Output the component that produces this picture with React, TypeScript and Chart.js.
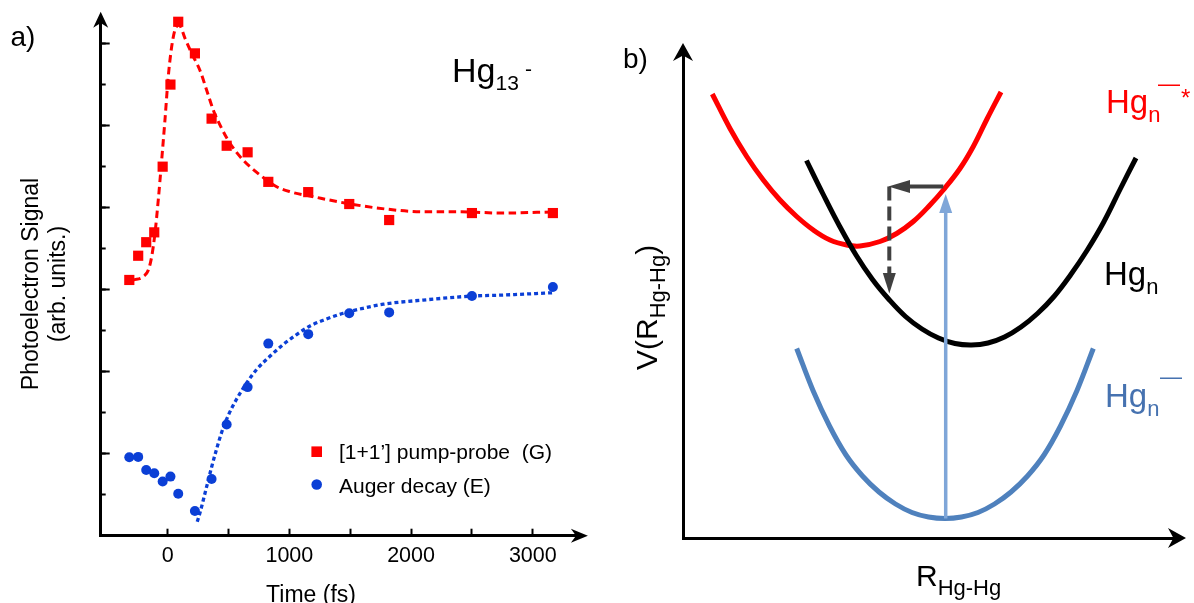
import React, { useEffect, useRef } from 'react';
import { Chart, registerables } from 'chart.js';

Chart.register(...registerables);

const FONT = "'Liberation Sans', Arial, Helvetica, sans-serif";
Chart.defaults.font.family = FONT;

// ---------------- Panel a: time-resolved photoelectron signal ----------------
const delayTimes = [-315, -242, -176, -110, -41, 23, 87, 224, 361, 485, 657, 827, 1155, 1492, 1820, 2500, 3165];
const pumpProbeSignal = [6.23, 6.82, 7.15, 7.39, 8.99, 10.99, 12.52, 11.75, 10.16, 9.5, 9.34, 8.62, 8.37, 8.08, 7.69, 7.86, 7.86];
const augerSignal = [1.91, 1.92, 1.6, 1.52, 1.32, 1.44, 1.02, 0.6, 1.38, 2.71, 3.62, 4.68, 4.91, 5.42, 5.44, 5.84, 6.06];

const pumpProbeFitTimes = [-283, -200, -159, -131, -104, -77, -49, -22, 5, 33, 60, 95, 142, 197, 265, 320, 375, 444, 512, 621, 758, 896, 1005, 1210, 1465, 1786, 2098, 2414, 2731, 3200];
const pumpProbeFitValues = [6.23, 6.31, 6.47, 6.8, 7.37, 8.18, 9.15, 10.13, 11.18, 11.91, 12.32, 12.44, 12.12, 11.75, 11.34, 10.86, 10.37, 9.92, 9.56, 9.15, 8.79, 8.5, 8.38, 8.25, 8.1, 7.96, 7.89, 7.89, 7.86, 7.89];

const augerFitTimes = [243, 265, 293, 320, 362, 403, 444, 498, 567, 649, 731, 840, 950, 1060, 1170, 1279, 1443, 1607, 1772, 2098, 2509, 2731, 3175];
const augerFitValues = [0.34, 0.55, 0.87, 1.19, 1.68, 2.12, 2.52, 2.93, 3.33, 3.72, 4.05, 4.37, 4.66, 4.9, 5.11, 5.25, 5.42, 5.54, 5.64, 5.74, 5.84, 5.86, 5.92];

const timeTickValues = [0, 500, 1000, 1500, 2000, 2500, 3000];
const timeTickLabels = ['0', '', '1000', '', '2000', '', '3000'];
const signalMinorTicks = [1, 2, 3, 4, 5, 6, 7, 8, 9, 10, 11, 12];
const signalMajorTicks = [2, 4, 6, 8, 10, 12];

const legendLabelG = '[1+1\u2019] pump-probe  (G)';
const legendLabelE = 'Auger decay (E)';

// ---------------- Panel b: potential energy curves ----------------
const excitedR = [0.586, 0.94, 1.274, 1.606, 1.94, 2.274, 2.606, 2.94, 3.274, 3.54, 3.94, 4.274, 4.606, 4.94, 5.206, 5.54, 5.806, 6.08, 6.36];
const excitedV = [8.88, 8.19, 7.63, 7.16, 6.76, 6.43, 6.16, 5.96, 5.86, 5.84, 5.93, 6.09, 6.33, 6.66, 6.96, 7.39, 7.83, 8.38, 8.92];

const neutralR = [2.47, 2.8, 3.13, 3.46, 3.79, 4.12, 4.45, 4.78, 5.11, 5.44, 5.77, 6.1, 6.43, 6.76, 7.09, 7.42, 7.75, 8.08, 8.41, 8.74, 9.06];
const neutralV = [7.55, 6.88, 6.24, 5.66, 5.17, 4.77, 4.43, 4.18, 4.0, 3.89, 3.86, 3.9, 4.02, 4.22, 4.49, 4.83, 5.26, 5.75, 6.31, 6.97, 7.6];

const anionR = [2.274, 2.6, 2.93, 3.26, 3.59, 3.92, 4.25, 4.58, 4.91, 5.24, 5.57, 5.9, 6.23, 6.56, 6.89, 7.22, 7.55, 7.88, 8.206];
const anionV = [3.79, 2.95, 2.24, 1.66, 1.24, 0.92, 0.68, 0.51, 0.42, 0.39, 0.42, 0.51, 0.68, 0.92, 1.24, 1.66, 2.24, 2.95, 3.79];

// arrows: shaft end points and tip
const pumpShaftR = [5.254, 5.254];
const pumpShaftV = [0.39, 6.5];
const pumpTip = { x: 5.254, y: 6.88 };

const relaxShaftR = [5.206, 4.54];
const relaxShaftV = [7.03, 7.03];
const relaxTip = { x: 4.106, y: 7.03 };

const decayShaftR = [4.126, 4.126];
const decayShaftV = [7.03, 5.3];
const decayTip = { x: 4.126, y: 4.89 };

const RED = '#ff0000';
const DOT_BLUE = '#0b3fd6';
const CURVE_BLUE = '#4f81bd';
const LABEL_BLUE = '#4672b0';
const PUMP_BLUE = '#7fa6d8';
const GRAY = '#404040';

const zip = (xs: number[], ys: number[]) => xs.map((x, i) => ({ x, y: ys[i] }));

type Run = { t: string; size: number; dy?: number; x?: number };

function drawRuns(ctx: CanvasRenderingContext2D, x0: number, y0: number, runs: Run[], color: string, rotated = false) {
  ctx.save();
  ctx.translate(x0, y0);
  if (rotated) ctx.rotate(-Math.PI / 2);
  ctx.fillStyle = color;
  ctx.textBaseline = 'alphabetic';
  ctx.textAlign = 'left';
  let cx = 0;
  for (const r of runs) {
    ctx.font = `${r.size}px ${FONT}`;
    const px = r.x !== undefined ? r.x : cx;
    ctx.fillText(r.t, px, r.dy || 0);
    cx = px + ctx.measureText(r.t).width;
  }
  ctx.restore();
}

function arrowHead(ctx: CanvasRenderingContext2D, tx: number, ty: number, dx: number, dy: number, len: number, hw: number, notch: number, color: string) {
  const px = -dy;
  const py = dx;
  const bx = tx - dx * len;
  const by = ty - dy * len;
  const nx = tx - dx * len * (1 - notch);
  const ny = ty - dy * len * (1 - notch);
  ctx.save();
  ctx.fillStyle = color;
  ctx.beginPath();
  ctx.moveTo(tx, ty);
  ctx.lineTo(bx + px * hw, by + py * hw);
  ctx.lineTo(nx, ny);
  ctx.lineTo(bx - px * hw, by - py * hw);
  ctx.closePath();
  ctx.fill();
  ctx.restore();
}

const panelADecor = {
  id: 'panelADecor',
  afterDraw(chart: any) {
    const { ctx, chartArea: a } = chart;
    // axis arrow heads
    arrowHead(ctx, a.left, a.top - 11.2, 0, -1, 16, 7.5, 0.3, '#000');
    arrowHead(ctx, a.right + 11.9, a.bottom, 1, 0, 17, 7, 0.3, '#000');

    // legend
    const dsG = chart.data.datasets[0];
    const dsE = chart.data.datasets[1];
    ctx.save();
    ctx.fillStyle = dsG.backgroundColor;
    ctx.fillRect(316.7 - 5.3, 451.7 - 5.3, 10.6, 10.6);
    ctx.fillStyle = dsE.backgroundColor;
    ctx.beginPath();
    ctx.arc(316.7, 484.5, 5.3, 0, Math.PI * 2);
    ctx.fill();
    ctx.restore();
    drawRuns(ctx, 339, 458.5, [{ t: dsG.label, size: 21 }], '#000');
    drawRuns(ctx, 339, 493.3, [{ t: dsE.label, size: 21 }], '#000');

    // panel label and cluster label
    drawRuns(ctx, 10.5, 46, [{ t: 'a)', size: 28 }], '#000');
    drawRuns(ctx, 452, 82, [
      { t: 'Hg', size: 34 },
      { t: '13', size: 21, dy: 8 },
      { t: '-', size: 21, dy: -6.3, x: 73 },
    ], '#000');

    // y title (two lines, rotated)
    ctx.save();
    ctx.fillStyle = '#000';
    ctx.textAlign = 'center';
    ctx.textBaseline = 'alphabetic';
    ctx.font = `23px ${FONT}`;
    ctx.translate(37.5, 284);
    ctx.rotate(-Math.PI / 2);
    ctx.fillText('Photoelectron Signal', 0, 0);
    ctx.fillText('(arb. units.)', 0, 27);
    ctx.restore();

    // x title
    ctx.save();
    ctx.fillStyle = '#000';
    ctx.textAlign = 'center';
    ctx.textBaseline = 'alphabetic';
    ctx.font = `23px ${FONT}`;
    ctx.fillText('Time (fs)', 311, 601.5);
    ctx.restore();
  },
};

const panelBDecor = {
  id: 'panelBDecor',
  afterDraw(chart: any) {
    const { ctx, chartArea: a, scales } = chart;
    const xs = scales.x;
    const ys = scales.y;
    // axis arrow heads
    arrowHead(ctx, a.left, a.top - 12.6, 0, -1, 18, 10, 0.3, '#000');
    arrowHead(ctx, a.right + 12.6, a.bottom, 1, 0, 18, 10, 0.3, '#000');

    // data arrow heads
    const head = (tip: { x: number; y: number }, sx: number, sy: number, hw: number, color: string) => {
      const tx = xs.getPixelForValue(tip.x);
      const ty = ys.getPixelForValue(tip.y);
      const bx = xs.getPixelForValue(sx);
      const by = ys.getPixelForValue(sy);
      const len = Math.hypot(tx - bx, ty - by);
      arrowHead(ctx, tx, ty, (tx - bx) / len, (ty - by) / len, len, hw, 0, color);
    };
    head(pumpTip, pumpShaftR[1], pumpShaftV[1], 6.5, PUMP_BLUE);
    head(relaxTip, relaxShaftR[1], relaxShaftV[1], 6.5, GRAY);
    head(decayTip, decayShaftR[1], decayShaftV[1], 6.5, GRAY);

    // labels (canvas starts at page x = 600)
    drawRuns(ctx, 23, 68, [{ t: 'b)', size: 28 }], '#000');
    drawRuns(ctx, 506, 113, [
      { t: 'Hg', size: 33 },
      { t: 'n', size: 22, dy: 9 },
      { t: '\u2014', size: 22, x: 52, dy: -22 },
      { t: '*', size: 24, x: 75, dy: -7.5 },
    ], RED);
    drawRuns(ctx, 504, 285, [
      { t: 'Hg', size: 33 },
      { t: 'n', size: 22, dy: 8.5 },
    ], '#000');
    drawRuns(ctx, 505, 407, [
      { t: 'Hg', size: 33 },
      { t: 'n', size: 22, dy: 9 },
      { t: '\u2014', size: 22, x: 55, dy: -23 },
    ], LABEL_BLUE);

    // axis titles
    drawRuns(ctx, 57, 370, [
      { t: 'V(R', size: 30 },
      { t: 'Hg-Hg', size: 22, dy: 8.4 },
      { t: ')', size: 30 },
    ], '#000', true);
    drawRuns(ctx, 316, 586, [
      { t: 'R', size: 30 },
      { t: 'Hg-Hg', size: 22, dy: 9 },
    ], '#000');
  },
};

function makePanelA(canvas: HTMLCanvasElement) {
  return new Chart(canvas, {
    type: 'scatter',
    data: {
      datasets: [
        {
          label: legendLabelG,
          data: zip(delayTimes, pumpProbeSignal),
          pointStyle: 'rect',
          pointRadius: 7.2,
          backgroundColor: RED,
          pointBorderWidth: 0,
          borderWidth: 0,
          order: 1,
          clip: false,
        } as any,
        {
          label: legendLabelE,
          data: zip(delayTimes, augerSignal),
          pointStyle: 'circle',
          pointRadius: 5,
          backgroundColor: DOT_BLUE,
          pointBorderWidth: 0,
          borderWidth: 0,
          order: 2,
          clip: false,
        } as any,
        {
          type: 'line',
          label: 'fit G',
          data: zip(pumpProbeFitTimes, pumpProbeFitValues),
          borderColor: RED,
          borderWidth: 3,
          borderDash: [7.5, 4.5],
          pointRadius: 0,
          cubicInterpolationMode: 'monotone',
          fill: false,
          order: 3,
          clip: false,
        } as any,
        {
          type: 'line',
          label: 'fit E',
          data: zip(augerFitTimes, augerFitValues),
          borderColor: DOT_BLUE,
          borderWidth: 3.3,
          borderDash: [4, 3],
          pointRadius: 0,
          cubicInterpolationMode: 'monotone',
          fill: false,
          order: 4,
          clip: false,
        } as any,
      ],
    },
    options: {
      responsive: false,
      animation: false,
      events: [],
      layout: { padding: { left: 100.7, top: 23, right: 24, bottom: 0 } },
      plugins: { legend: { display: false }, tooltip: { enabled: false } },
      scales: {
        x: {
          type: 'linear',
          position: 'bottom',
          min: -550,
          max: 3355,
          afterBuildTicks: (s: any) => { s.ticks = timeTickValues.map((v) => ({ value: v })); },
          afterFit: (s: any) => { s.height = 67.3; },
          grid: { display: true, drawOnChartArea: false, drawTicks: true, tickLength: -7, tickWidth: 2, tickColor: '#000' },
          border: { display: true, color: '#000', width: 3 },
          ticks: {
            autoSkip: false,
            maxRotation: 0,
            padding: 14,
            color: '#000',
            font: { size: 21.5, family: FONT },
            callback: (v: any) => {
              const i = timeTickValues.indexOf(Number(v));
              return i >= 0 ? timeTickLabels[i] : '';
            },
          },
        },
        y: {
          type: 'linear',
          position: 'left',
          min: 0,
          max: 12.49,
          afterBuildTicks: (s: any) => { s.ticks = signalMinorTicks.map((v) => ({ value: v })); },
          afterFit: (s: any) => { s.width = 0; },
          grid: { display: true, drawOnChartArea: false, drawTicks: true, tickLength: -5, tickWidth: 2, tickColor: '#000' },
          border: { display: true, color: '#000', width: 3 },
          ticks: { display: false },
        },
        y2: {
          type: 'linear',
          position: 'left',
          min: 0,
          max: 12.49,
          afterBuildTicks: (s: any) => { s.ticks = signalMajorTicks.map((v) => ({ value: v })); },
          afterFit: (s: any) => { s.width = 0; },
          grid: { display: true, drawOnChartArea: false, drawTicks: true, tickLength: -9, tickWidth: 2, tickColor: '#000' },
          border: { display: false },
          ticks: { display: false },
        },
      },
    } as any,
    plugins: [panelADecor],
  });
}

function makePanelB(canvas: HTMLCanvasElement) {
  const curve = (label: string, xs: number[], ys: number[], color: string, order: number) => ({
    type: 'line',
    label,
    data: zip(xs, ys),
    borderColor: color,
    borderWidth: 5,
    pointRadius: 0,
    tension: 0.4,
    borderCapStyle: 'butt',
    fill: false,
    order,
    clip: false,
  });
  const shaft = (label: string, xs: number[], ys: number[], color: string, width: number, dash: number[], order: number) => ({
    type: 'line',
    label,
    data: zip(xs, ys),
    borderColor: color,
    borderWidth: width,
    borderDash: dash,
    borderCapStyle: 'butt',
    pointRadius: 0,
    tension: 0,
    fill: false,
    order,
    clip: false,
  });
  return new Chart(canvas, {
    type: 'scatter',
    data: {
      datasets: [
        shaft('pump', pumpShaftR, pumpShaftV, PUMP_BLUE, 3.5, [], 1),
        shaft('relax', relaxShaftR, relaxShaftV, GRAY, 4, [], 2),
        shaft('decay', decayShaftR, decayShaftV, GRAY, 4, [14, 6], 3),
        curve('Hg_n', neutralR, neutralV, '#000000', 4),
        curve('Hg_n-*', excitedR, excitedV, RED, 5),
        curve('Hg_n-', anionR, anionV, CURVE_BLUE, 6),
      ] as any,
    },
    options: {
      responsive: false,
      animation: false,
      events: [],
      layout: { padding: { left: 83, top: 55.6, right: 20.6, bottom: 65 } },
      plugins: { legend: { display: false }, tooltip: { enabled: false } },
      scales: {
        x: {
          type: 'linear',
          position: 'bottom',
          min: 0,
          max: 9.808,
          afterFit: (s: any) => { s.height = 0; },
          grid: { display: false },
          border: { display: true, color: '#000', width: 3 },
          ticks: { display: false },
        },
        y: {
          type: 'linear',
          position: 'left',
          min: 0,
          max: 9.648,
          afterFit: (s: any) => { s.width = 0; },
          grid: { display: false },
          border: { display: true, color: '#000', width: 3 },
          ticks: { display: false },
        },
      },
    } as any,
    plugins: [panelBDecor],
  });
}

export default function App() {
  const aRef = useRef<HTMLCanvasElement>(null);
  const bRef = useRef<HTMLCanvasElement>(null);
  useEffect(() => {
    const ca = makePanelA(aRef.current as HTMLCanvasElement);
    const cb = makePanelB(bRef.current as HTMLCanvasElement);
    return () => {
      ca.destroy();
      cb.destroy();
    };
  }, []);
  return (
    <div style={{ position: 'fixed', left: 0, top: 0, width: 1194, height: 603, background: '#fff', overflow: 'hidden' }}>
      <canvas ref={aRef} width={600} height={603} style={{ position: 'absolute', left: 0, top: 0, width: 600, height: 603 }} />
      <canvas ref={bRef} width={594} height={603} style={{ position: 'absolute', left: 600, top: 0, width: 594, height: 603 }} />
    </div>
  );
}
